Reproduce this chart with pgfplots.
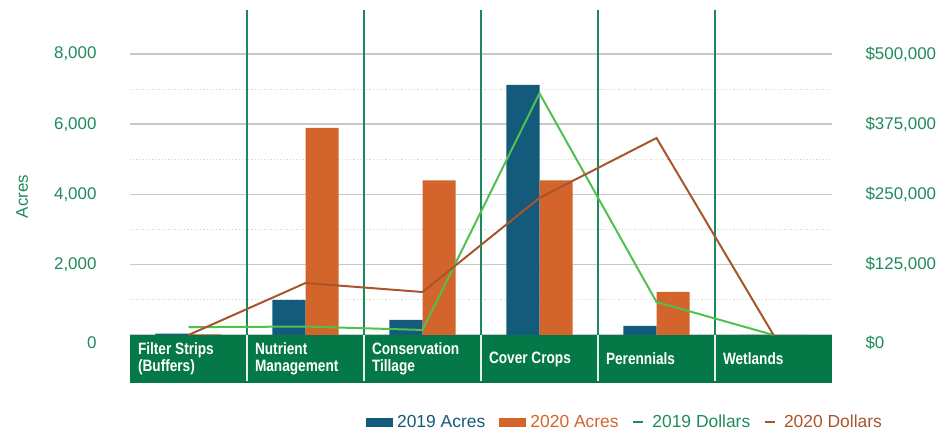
\documentclass[border=0pt]{standalone}
\usepackage{pgfplots}
\pgfplotsset{compat=1.18}
\usepackage{fontspec}
\setmainfont{Liberation Sans}
\newfontfamily\condfont{Liberation Sans}[FakeStretch=0.83]

\definecolor{tickgreen}{RGB}{31,138,92}
\definecolor{bandgreen}{RGB}{4,120,70}
\definecolor{sepgreen}{RGB}{26,138,90}
\definecolor{acreblue}{RGB}{19,90,123}
\definecolor{acreorange}{RGB}{211,100,43}
\definecolor{dolgreen}{RGB}{80,192,80}
\definecolor{dolbrown}{RGB}{168,85,45}
\definecolor{gridgray}{RGB}{200,200,200}

\begin{document}
\begin{tikzpicture}
\useasboundingbox (0,0) rectangle (943bp,432bp);

% acres, left axis
\begin{axis}[
  at={(130bp,49bp)}, anchor=south west,
  scale only axis, width=702bp, height=373bp,
  xmin=-0.5, xmax=5.5,
  ymin=-1366.5, ymax=9252.6,
  axis line style={draw=none},
  tick style={draw=none},
  major tick length=0pt, minor tick length=0pt,
  xtick=\empty,
  ytick={0,2000,4000,6000,8000},
  yticklabels={\raisebox{-7bp}[0.72em][0pt]{0},{2,000},{4,000},{6,000},{8,000}},
  yticklabel style={text=tickgreen, font=\fontsize{17}{20}\selectfont, xshift=-30bp},
  minor ytick={1000,3000,5000,7000},
  ymajorgrids, yminorgrids,
  major grid style={gridgray, line width=1.5bp},
  minor grid style={gridgray!70, line width=1.2bp, dotted},
  ylabel={Acres},
  every axis y label/.style={at={(axis description cs:-0.1538,0.5)}, rotate=90,
    anchor=center, text=tickgreen, font=\fontsize{17}{20}\selectfont},
  ybar=0pt, bar width=0.283,
]
\fill[bandgreen] (axis cs:-0.5,-1366.5) rectangle (axis cs:5.5,0);
\pgfplotsinvokeforeach{0.5,1.5,2.5,3.5,4.5}{
  \draw[sepgreen, line width=2bp] (axis cs:#1,0) -- (axis cs:#1,9252.6);
  \draw[white!88!bandgreen, line width=1.5bp] (axis cs:#1,-1310) -- (axis cs:#1,0);
}
\addplot[fill=acreblue, draw=none] coordinates {(0,40) (1,1000) (2,430) (3,7120) (4,260) (5,0)};
\addplot[fill=acreorange, draw=none] coordinates {(0,15) (1,5900) (2,4400) (3,4400) (4,1225) (5,0)};
\end{axis}

% dollars, right axis (also carries the category names in the band)
\begin{axis}[
  at={(130bp,49bp)}, anchor=south west,
  scale only axis, width=702bp, height=373bp,
  xmin=-0.5, xmax=5.5,
  ymin=-85410, ymax=578290,
  axis line style={draw=none},
  tick style={draw=none},
  major tick length=0pt,
  xtick={0,1,2,3,4,5},
  xticklabels={{Filter Strips\\(Buffers)},{Nutrient\\Management},{Conservation\\Tillage},{Cover Crops},{Perennials},{Wetlands}},
  xticklabel style={anchor=west, align=left, text=white,
    font=\condfont\bfseries\fontsize{16.5}{17}\selectfont,
    xshift=-54bp, yshift=24bp},
  yticklabel pos=right,
  ytick={0,125000,250000,375000,500000},
  yticklabels={\raisebox{-7bp}[0.72em][0pt]{\$0},{\$125,000},{\$250,000},{\$375,000},{\$500,000}},
  scaled y ticks=false,
  yticklabel style={text=tickgreen, font=\fontsize{17}{20}\selectfont, anchor=west, xshift=30bp},
  legend columns=4,
  legend style={draw=none, fill=none, at={(axis description cs:0.705,-0.105)}, anchor=center,
    font=\fontsize{17.5}{20}\selectfont,
    /tikz/every even column/.append style={column sep=12bp}},
]
\addlegendimage{legend image code/.code={\fill[acreblue] (0bp,-4bp) rectangle (26bp,4bp); \path[draw=none,fill=none] (0bp,0bp) -- (29bp,0bp);}}
\addlegendentry{\textcolor{acreblue}{2019 Acres}}
\addlegendimage{legend image code/.code={\fill[acreorange] (0bp,-4bp) rectangle (26bp,4bp); \path[draw=none,fill=none] (0bp,0bp) -- (29bp,0bp);}}
\addlegendentry{\textcolor{acreorange}{2020 Acres}}
\addplot[dolgreen, line width=2bp, mark=none,
  legend image code/.code={\draw[tickgreen, line width=1.5bp] (0bp,0bp) -- (10bp,0bp); \path[draw=none,fill=none] (0bp,0bp) -- (17bp,0bp);}]
  coordinates {(0,14000) (1,15000) (2,9000) (3,430000) (4,58700) (5,0)};
\addlegendentry{\textcolor{tickgreen}{2019 Dollars}}
\addplot[dolbrown, line width=2bp, mark=none,
  legend image code/.code={\draw[dolbrown, line width=1.5bp] (0bp,0bp) -- (10bp,0bp); \path[draw=none,fill=none] (0bp,0bp) -- (17bp,0bp);}]
  coordinates {(0,0) (1,92500) (2,76500) (3,244000) (4,350500) (5,0)};
\addlegendentry{\textcolor{dolbrown}{2020 Dollars}}
\end{axis}
\end{tikzpicture}
\end{document}
